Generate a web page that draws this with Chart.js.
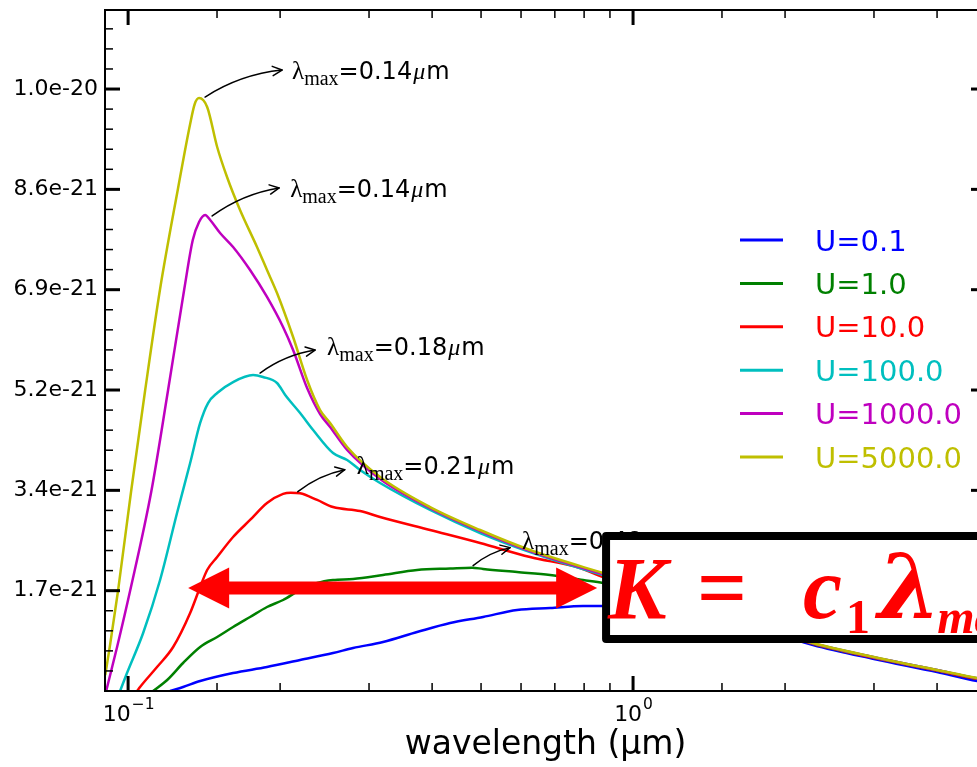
<!DOCTYPE html>
<html>
<head>
<meta charset="utf-8">
<script src="https://cdn.jsdelivr.net/npm/chart.js@4/dist/chart.umd.min.js"></script>
<style>
  html, body { margin: 0; padding: 0; background: #fff; overflow: hidden; }
  #wrap { width: 1000px; height: 767px; }
</style>
</head>
<body>
<div id="wrap"><canvas id="sed" width="1000" height="767"></canvas></div>
<script>
// Dust emission spectra for several radiation-field strengths U.
// Wavelengths in micrometres, flux in units of 1e-21.
const SERIES_LABELS = ['U=0.1', 'U=1.0', 'U=10.0', 'U=100.0', 'U=1000.0', 'U=5000.0'];
const SERIES_COLORS = ['#0000ff', '#008000', '#ff0000', '#00bfbf', '#bf00bf', '#bfbf00'];

const wlU0_1 = [0.1211, 0.1285, 0.1389, 0.1614, 0.1884, 0.2191, 0.2546, 0.2790, 0.3198, 0.3735, 0.4342, 0.5047, 0.5892, 0.6851, 0.7961, 0.872, 1.0, 1.297, 1.697, 2.272, 3.0, 4.0, 4.8, 5.09];
const fluxU0_1 = [0.0, 0.069, 0.171, 0.309, 0.411, 0.531, 0.651, 0.737, 0.840, 1.011, 1.166, 1.269, 1.389, 1.423, 1.457, 1.457, 1.474, 1.389, 1.131, 0.789, 0.549, 0.326, 0.171, 0.137];

const wlU1 = [0.1121, 0.1195, 0.1285, 0.1389, 0.1501, 0.1614, 0.1744, 0.1884, 0.2027, 0.2191, 0.2368, 0.2546, 0.2790, 0.3198, 0.3735, 0.4342, 0.48, 0.5047, 0.5892, 0.6851, 0.7961, 0.872, 1.0, 1.297, 1.697, 2.272, 3.0, 4.0, 4.8, 5.09];
const fluxU1 = [0.0, 0.189, 0.480, 0.754, 0.926, 1.097, 1.269, 1.440, 1.560, 1.732, 1.852, 1.903, 1.920, 1.989, 2.074, 2.100, 2.115, 2.092, 2.040, 1.989, 1.903, 1.852, 1.732, 1.509, 1.17, 0.81, 0.57, 0.35, 0.21, 0.18];

const wlU10 = [0.1042, 0.1056, 0.1141, 0.1228, 0.1327, 0.1389, 0.1434, 0.1501, 0.1614, 0.1744, 0.1884, 0.2027, 0.21, 0.2191, 0.2368, 0.2546, 0.2880, 0.3155, 0.3963, 0.4978, 0.6252, 0.785, 0.872, 1.0, 1.297, 1.697, 2.272, 3.0, 4.0, 4.8, 5.09];
const fluxU10 = [0.0, 0.069, 0.411, 0.754, 1.337, 1.783, 2.074, 2.297, 2.640, 2.932, 3.223, 3.380, 3.400, 3.390, 3.275, 3.154, 3.086, 2.983, 2.760, 2.537, 2.297, 2.109, 1.954, 1.83, 1.53, 1.16, 0.81, 0.57, 0.35, 0.21, 0.18];

const wlU100 = [0.0964, 0.0995, 0.1071, 0.1157, 0.1250, 0.1327, 0.1389, 0.1440, 0.1501, 0.1614, 0.1768, 0.1850, 0.1972, 0.2047, 0.2191, 0.2325, 0.2546, 0.2715, 0.2880, 0.3155, 0.3963, 0.4978, 0.6252, 0.872, 1.0, 1.297, 1.697, 2.272, 3.0, 4.0, 4.8, 5.09];
const fluxU100 = [0.0, 0.309, 0.994, 1.903, 3.052, 3.909, 4.595, 4.937, 5.109, 5.297, 5.417, 5.383, 5.280, 5.075, 4.766, 4.475, 4.080, 3.960, 3.789, 3.566, 3.103, 2.709, 2.383, 1.989, 1.85, 1.55, 1.17, 0.82, 0.58, 0.36, 0.22, 0.19];

const wlU1000 = [0.0905, 0.0909, 0.0951, 0.1009, 0.1112, 0.1200, 0.1292, 0.1343, 0.1382, 0.1421, 0.1454, 0.1521, 0.1614, 0.1744, 0.1884, 0.2027, 0.2122, 0.2262, 0.2400, 0.2512, 0.2715, 0.3155, 0.3963, 0.4978, 0.6252, 0.872, 1.0, 1.297, 1.697, 2.272, 3.0, 4.0, 4.8, 5.09];
const fluxU1000 = [0.0, 0.069, 0.754, 1.714, 3.429, 5.160, 6.892, 7.732, 8.041, 8.161, 8.075, 7.852, 7.612, 7.217, 6.755, 6.240, 5.846, 5.195, 4.749, 4.526, 4.132, 3.635, 3.137, 2.743, 2.400, 2.006, 1.86, 1.55, 1.18, 0.82, 0.58, 0.36, 0.22, 0.19];

const wlU5000 = [0.0901, 0.0921, 0.0955, 0.1014, 0.1081, 0.1157, 0.1255, 0.1327, 0.1355, 0.1382, 0.1434, 0.1501, 0.1570, 0.1666, 0.1800, 0.1884, 0.1972, 0.2122, 0.2262, 0.2400, 0.2512, 0.2715, 0.3155, 0.3963, 0.4978, 0.6252, 0.872, 1.0, 1.297, 1.697, 2.272, 3.0, 4.0, 4.8, 5.09];
const fluxU5000 = [0.274, 0.789, 1.714, 3.429, 5.160, 6.892, 8.606, 9.721, 10.064, 10.166, 10.012, 9.326, 8.812, 8.246, 7.612, 7.217, 6.823, 6.069, 5.332, 4.817, 4.595, 4.183, 3.669, 3.154, 2.760, 2.417, 2.023, 1.869, 1.560, 1.183, 0.823, 0.583, 0.360, 0.223, 0.189];

const WAVELENGTHS = [wlU0_1, wlU1, wlU10, wlU100, wlU1000, wlU5000];
const FLUXES = [fluxU0_1, fluxU1, fluxU10, fluxU100, fluxU1000, fluxU5000];

// Axis ranges and ticks
const X_MIN = 0.09, X_MAX = 5.0;
const X_DECADES = [0.1, 1];
const X_TICK_LABELS = [['10', '\u22121'], ['10', '0']];
const Y_MAX = 11.675;
const Y_TICKS = [1.72, 3.44, 5.16, 6.88, 8.60, 10.32];
const Y_TICK_LABELS = ['1.7e-21', '3.4e-21', '5.2e-21', '6.9e-21', '8.6e-21', '1.0e-20'];

// Double-headed marker and formula box, anchored in data space
const MARKER_SPAN = [0.1315, 0.849];
const MARKER_LEVEL = 1.766;
const BOX_LEFT = 0.8842, BOX_TOP = 2.657, BOX_BOTTOM = 0.891;

// Peak callouts: pixel offsets from each curve's maximum (null = none)
const NOTE_OFFSETS = [
  null,
  { start: [1, -2], end: [38, -20], text: [50, -19] },
  { start: [7, -1], end: [54, -23], text: [66, -19] },
  { start: [7, -2], end: [62, -25], text: [74, -20] },
  { start: [7, 1], end: [74, -27], text: [85, -18] },
  { start: [6, -1], end: [83, -28], text: [93, -19] }
];

const datasets = SERIES_LABELS.map((label, i) => ({
  label,
  data: WAVELENGTHS[i].map((w, k) => ({ x: w, y: FLUXES[i][k] })),
  borderColor: SERIES_COLORS[i],
  backgroundColor: SERIES_COLORS[i],
  borderWidth: 2.5,
  pointRadius: 0,
  fill: false,
  cubicInterpolationMode: 'monotone',
  order: SERIES_LABELS.length - i
}));

function isDecade(v) {
  const l = Math.log10(v);
  return Math.abs(l - Math.round(l)) < 1e-6;
}

function seg(ctx, x1, y1, x2, y2) {
  ctx.beginPath(); ctx.moveTo(x1, y1); ctx.lineTo(x2, y2); ctx.stroke();
}

function drawFrame(chart) {
  const { ctx, chartArea: a, scales: { x, y } } = chart;
  ctx.save();
  ctx.strokeStyle = '#000';
  ctx.lineCap = 'butt';
  // x ticks, bottom and top, pointing inward
  x.ticks.forEach(t => {
    const px = x.getPixelForValue(t.value);
    if (px < a.left + 2 || px > a.right - 2) return;
    const major = isDecade(t.value);
    ctx.lineWidth = major ? 3 : 1.5;
    const len = major ? 15 : 8;
    seg(ctx, px, a.bottom, px, a.bottom - len);
    seg(ctx, px, a.top, px, a.top + len);
  });
  // y ticks, left and right
  const minor = Y_TICKS[0] / 5;
  for (let k = 1; k * minor < Y_MAX; k++) {
    const py = y.getPixelForValue(k * minor);
    const major = k % 5 === 0;
    ctx.lineWidth = major ? 3 : 1.5;
    const len = major ? 15 : 8;
    seg(ctx, a.left, py, a.left + len, py);
    seg(ctx, a.right, py, a.right - len, py);
  }
  ctx.lineWidth = 2;
  ctx.strokeRect(a.left, a.top, a.right - a.left, a.bottom - a.top);

  // decade labels with raised exponents
  ctx.fillStyle = '#000';
  ctx.textAlign = 'left';
  ctx.textBaseline = 'alphabetic';
  X_DECADES.forEach((d, i) => {
    const [base, exp] = X_TICK_LABELS[i];
    const px = x.getPixelForValue(d);
    ctx.font = '22px "DejaVu Sans"';
    const wb = ctx.measureText(base).width;
    ctx.font = '15.5px "DejaVu Sans"';
    const we = ctx.measureText(exp).width;
    const x0 = px - (wb + we) / 2;
    ctx.font = '22px "DejaVu Sans"';
    ctx.fillText(base, x0, a.bottom + 30);
    ctx.font = '15.5px "DejaVu Sans"';
    ctx.fillText(exp, x0 + wb + 1, a.bottom + 18);
  });
  ctx.restore();
}

function drawLambdaLabel(ctx, x0, base, val) {
  ctx.fillStyle = '#000';
  ctx.textAlign = 'left';
  ctx.textBaseline = 'alphabetic';
  let xx = x0;
  ctx.font = '25px "Liberation Serif"';
  ctx.fillText('\u03BB', xx, base); xx += ctx.measureText('\u03BB').width;
  ctx.font = '20px "Liberation Serif"';
  ctx.fillText('max', xx, base + 6); xx += ctx.measureText('max').width;
  ctx.font = '24px "DejaVu Sans"';
  const s = '=' + val;
  ctx.fillText(s, xx, base); xx += ctx.measureText(s).width + 1;
  ctx.font = 'italic 24px "Liberation Serif"';
  ctx.fillText('\u03BC', xx, base); xx += ctx.measureText('\u03BC').width + 1;
  ctx.font = '24px "DejaVu Sans"';
  ctx.fillText('m', xx, base);
}

function drawPeakNotes(chart) {
  const { ctx, scales: { x, y } } = chart;
  ctx.save();
  ctx.strokeStyle = '#000';
  ctx.lineWidth = 1.5;
  ctx.lineCap = 'round';
  ctx.lineJoin = 'round';
  chart.data.datasets.forEach((ds, i) => {
    const off = NOTE_OFFSETS[i];
    if (!off) return;
    let best = ds.data[0];
    ds.data.forEach(p => { if (p.y > best.y) best = p; });
    const px = x.getPixelForValue(best.x), py = y.getPixelForValue(best.y);
    const sx = px + off.start[0], sy = py + off.start[1];
    const ex = px + off.end[0], ey = py + off.end[1];
    const dx = ex - sx, dy = ey - sy;
    const cx = (sx + ex) / 2 + 0.12 * dy, cy = (sy + ey) / 2 - 0.12 * dx;
    ctx.beginPath(); ctx.moveTo(sx, sy); ctx.quadraticCurveTo(cx, cy, ex, ey); ctx.stroke();
    const ang = Math.atan2(ey - cy, ex - cx);
    const hl = 10.5, ha = 0.46;
    ctx.beginPath();
    ctx.moveTo(ex - hl * Math.cos(ang - ha), ey - hl * Math.sin(ang - ha));
    ctx.lineTo(ex, ey);
    ctx.lineTo(ex - hl * Math.cos(ang + ha), ey - hl * Math.sin(ang + ha));
    ctx.stroke();
    drawLambdaLabel(ctx, px + off.text[0], py + off.text[1], best.x.toFixed(2));
  });
  ctx.restore();
}

function drawMarker(chart) {
  const { ctx, scales: { x, y } } = chart;
  const xl = x.getPixelForValue(MARKER_SPAN[0]);
  const xr = x.getPixelForValue(MARKER_SPAN[1]);
  const yc = y.getPixelForValue(MARKER_LEVEL);
  const head = 41, hw = 20.5, sw = 6.5;
  ctx.save();
  ctx.fillStyle = '#ff0000';
  ctx.beginPath();
  ctx.moveTo(xl, yc);
  ctx.lineTo(xl + head, yc - hw);
  ctx.lineTo(xl + head, yc - sw);
  ctx.lineTo(xr - head, yc - sw);
  ctx.lineTo(xr - head, yc - hw);
  ctx.lineTo(xr, yc);
  ctx.lineTo(xr - head, yc + hw);
  ctx.lineTo(xr - head, yc + sw);
  ctx.lineTo(xl + head, yc + sw);
  ctx.lineTo(xl + head, yc + hw);
  ctx.closePath();
  ctx.fill();
  ctx.restore();
}

function drawFormulaBox(chart) {
  const { ctx, scales: { x, y } } = chart;
  const bx = x.getPixelForValue(BOX_LEFT);
  const by = y.getPixelForValue(BOX_TOP);
  const bb = y.getPixelForValue(BOX_BOTTOM);
  ctx.save();
  ctx.fillStyle = '#fff';
  ctx.fillRect(bx, by, 1100 - bx, bb - by);
  ctx.strokeStyle = '#000';
  ctx.lineWidth = 8;
  ctx.lineJoin = 'round';
  ctx.strokeRect(bx, by, 1100 - bx, bb - by);
  ctx.fillStyle = '#ff0000';
  ctx.textAlign = 'left';
  ctx.textBaseline = 'alphabetic';
  const base = by + 82, sub = by + 97;
  ctx.font = 'italic bold 88px "Liberation Serif"';
  ctx.fillText('K', bx + 2, base);
  ctx.font = 'bold 88px "Liberation Serif"';
  ctx.fillText('=', bx + 91, base);
  ctx.font = 'italic bold 88px "Liberation Serif"';
  ctx.fillText('c', bx + 197, base);
  ctx.font = 'bold 48px "Liberation Serif"';
  ctx.fillText('1', bx + 240, sub);
  ctx.font = 'italic bold 90px "DejaVu Serif"';
  ctx.fillText('\u03BB', bx + 272, base);
  const wl = ctx.measureText('\u03BB').width;
  ctx.font = 'italic bold 48px "Liberation Serif"';
  ctx.fillText('max', bx + 272 + wl - 4, sub);
  ctx.restore();
}

function drawKey(chart) {
  const { ctx, chartArea: a } = chart;
  ctx.save();
  ctx.textAlign = 'left';
  ctx.textBaseline = 'alphabetic';
  ctx.font = '29px "DejaVu Sans"';
  chart.data.datasets.forEach((ds, i) => {
    const yy = a.top + 230 + i * 43.4;
    ctx.strokeStyle = ds.borderColor;
    ctx.lineWidth = 3;
    seg(ctx, a.left + 635, yy, a.left + 678, yy);
    ctx.fillStyle = ds.borderColor;
    ctx.fillText(ds.label, a.left + 710, yy + 10.5);
  });
  ctx.restore();
}

const overlayPlugin = {
  id: 'overlay',
  afterDraw(chart) {
    drawFrame(chart);
    drawPeakNotes(chart);
    drawMarker(chart);
    drawFormulaBox(chart);
    drawKey(chart);
  }
};

new Chart(document.getElementById('sed'), {
  type: 'line',
  data: { datasets },
  options: {
    responsive: false,
    animation: false,
    events: [],
    layout: { autoPadding: false, padding: { top: 10, right: 14, left: 0, bottom: 0 } },
    plugins: { legend: { display: false }, tooltip: { enabled: false } },
    scales: {
      x: {
        type: 'logarithmic',
        min: X_MIN,
        max: X_MAX,
        afterFit: s => { s.height = 76; s.paddingLeft = 0; s.paddingRight = 0; },
        grid: { display: false, drawTicks: false },
        border: { display: false },
        ticks: { display: false, autoSkip: false, maxRotation: 0 },
        title: {
          display: true,
          text: 'wavelength (\u03BCm)',
          color: '#000',
          font: { family: 'DejaVu Sans', size: 33 },
          padding: { top: 0, bottom: 2 }
        }
      },
      y: {
        type: 'linear',
        min: 0,
        max: Y_MAX,
        afterFit: s => { s.width = 105; s.paddingTop = 0; s.paddingBottom = 0; },
        afterBuildTicks: s => { s.ticks = Y_TICKS.map(v => ({ value: v })); },
        grid: { display: false, drawTicks: false },
        border: { display: false },
        ticks: {
          autoSkip: false,
          padding: 7,
          color: '#000',
          font: { family: 'DejaVu Sans', size: 22 },
          callback: v => {
            const i = Y_TICKS.findIndex(t => Math.abs(t - v) < 1e-6);
            return i >= 0 ? Y_TICK_LABELS[i] : '';
          }
        }
      }
    }
  },
  plugins: [overlayPlugin]
});
</script>
</body>
</html>
